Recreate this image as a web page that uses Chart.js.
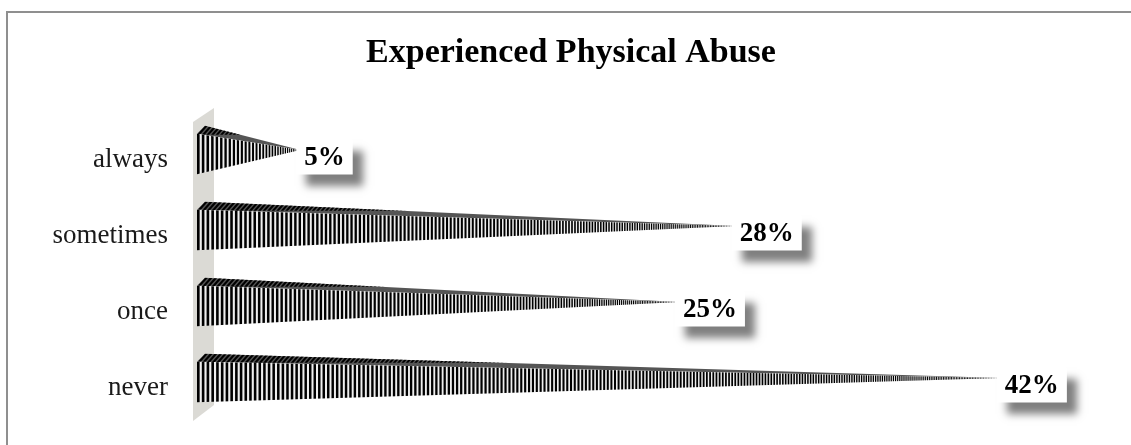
<!DOCTYPE html>
<html>
<head>
<meta charset="utf-8">
<script src="https://cdn.jsdelivr.net/npm/chart.js@4"></script>
<style>
  html, body { margin: 0; padding: 0; background: #fff; }
  #wrap { width: 1131px; height: 445px; }
</style>
</head>
<body>
<div id="wrap"><canvas id="myChart" width="1131" height="445"></canvas></div>
<script>
const categories = ['always', 'sometimes', 'once', 'never'];
const percents = [5, 28, 25, 42];
const chartTitle = 'Experienced Physical Abuse';

const SERIF = "'Liberation Serif', 'Times New Roman', serif";
const DEPTH_X = 8, DEPTH_Y = -8;

// frame + title (title sits off-centre in the reference, so drawn here)
const framePlugin = {
  id: 'frame',
  beforeDraw(chart) {
    const ctx = chart.ctx;
    ctx.save();
    ctx.fillStyle = '#fff';
    ctx.fillRect(0, 0, chart.width, chart.height);
    ctx.strokeStyle = '#8f8f8f';
    ctx.lineWidth = 2;
    ctx.strokeRect(7, 12, 1300, 1300);
    ctx.fillStyle = '#000';
    ctx.font = 'bold 34px ' + SERIF;
    ctx.textAlign = 'center';
    ctx.textBaseline = 'alphabetic';
    ctx.fillText(chartTitle, 571, 62);
    ctx.restore();
  }
};

// grey side wall of the 3D plot
const wallPlugin = {
  id: 'wall',
  beforeDatasetsDraw(chart) {
    const { ctx, chartArea: a } = chart;
    ctx.save();
    ctx.fillStyle = 'rgb(219,218,213)';
    ctx.beginPath();
    ctx.moveTo(a.left - 4, a.top);
    ctx.lineTo(a.left + 17, a.top - 14);
    ctx.lineTo(a.left + 17, a.bottom - 21);
    ctx.lineTo(a.left - 4, a.bottom - 5);
    ctx.closePath();
    ctx.fill();
    ctx.restore();
  }
};

function stripeStops(base, end) {
  const out = [];
  const len = end - base;
  let pos = base;
  while (pos < end) {
    const t = (pos - base) / len;
    const p = Math.max(1.6, 4.8 * Math.pow(1 - t, 0.4));
    out.push([pos, p]);
    pos += p;
  }
  return out;
}

function drawCone(ctx, base, ax, yc, h) {
  const top = yc - h / 2, bot = yc + h / 2;
  const ay = yc + DEPTH_Y / 2;
  const stops = stripeStops(base, ax);

  // top face
  ctx.save();
  ctx.beginPath();
  ctx.moveTo(base, top);
  ctx.lineTo(base + DEPTH_X, top + DEPTH_Y);
  ctx.lineTo(ax, ay);
  ctx.closePath();
  ctx.fillStyle = '#555';
  ctx.fill();
  ctx.clip();
  ctx.fillStyle = '#000';
  stops.forEach(([x, p]) => {
    const w = p * 0.6;
    ctx.beginPath();
    ctx.moveTo(x, top + 1);
    ctx.lineTo(x + w, top + 1);
    ctx.lineTo(x + w + DEPTH_X, top + DEPTH_Y);
    ctx.lineTo(x + DEPTH_X, top + DEPTH_Y);
    ctx.closePath();
    ctx.fill();
  });
  ctx.restore();

  // front face
  ctx.save();
  ctx.beginPath();
  ctx.moveTo(base, top);
  ctx.lineTo(base, bot);
  ctx.lineTo(ax, ay);
  ctx.closePath();
  ctx.fillStyle = '#eeeeee';
  ctx.fill();
  ctx.clip();
  ctx.fillStyle = '#000';
  stops.forEach(([x, p]) => {
    ctx.fillRect(x, top - 1, Math.max(0.8, p * 0.55), h + 2);
  });
  ctx.restore();
}

const conePlugin = {
  id: 'cones',
  afterDatasetsDraw(chart) {
    const ctx = chart.ctx;
    const left = chart.chartArea.left;
    const meta = chart.getDatasetMeta(0);
    meta.data.forEach((bar) => {
      drawCone(ctx, left, bar.x, bar.y - 6, bar.height);
    });
    // value labels in white boxes with soft shadow
    meta.data.forEach((bar, i) => {
      const txt = percents[i] + '%';
      ctx.save();
      ctx.font = 'bold 27px ' + SERIF;
      const tw = ctx.measureText(txt).width;
      const bw = tw + 16, bh = 35;
      const bx = bar.x - 4, cy = bar.y - 3, by = cy - bh / 2;
      ctx.shadowColor = 'rgba(0,0,0,0.5)';
      ctx.shadowBlur = 8;
      ctx.shadowOffsetX = 10;
      ctx.shadowOffsetY = 11;
      ctx.fillStyle = '#fff';
      ctx.fillRect(bx, by, bw, bh);
      ctx.shadowColor = 'transparent';
      ctx.fillStyle = '#000';
      ctx.textAlign = 'center';
      ctx.textBaseline = 'middle';
      ctx.fillText(txt, bx + bw / 2, cy + 1);
      ctx.restore();
    });
  }
};

const data = {
  labels: categories,
  datasets: [{
    label: chartTitle,
    data: percents,
    backgroundColor: 'rgba(0,0,0,0)',
    borderWidth: 0,
    categoryPercentage: 1,
    barPercentage: 0.53
  }]
};

const config = {
  type: 'bar',
  data: data,
  options: {
    indexAxis: 'y',
    responsive: false,
    animation: false,
    layout: { padding: { left: 0, right: 79, top: 122, bottom: 19 } },
    scales: {
      x: { display: false, min: -0.45, max: 44.7 },
      y: {
        grid: { display: false, drawTicks: false },
        border: { display: false },
        ticks: {
          padding: 29,
          color: '#1a1a1a',
          font: { family: SERIF, size: 27 }
        },
        afterFit(scale) {
          scale.width = 197;
          scale.paddingTop = 0;
          scale.paddingBottom = 0;
        }
      }
    },
    plugins: {
      legend: { display: false },
      tooltip: { enabled: false },
      title: { display: false }
    }
  },
  plugins: [framePlugin, wallPlugin, conePlugin]
};

const myChart = new Chart(document.getElementById('myChart'), config);
</script>
</body>
</html>
